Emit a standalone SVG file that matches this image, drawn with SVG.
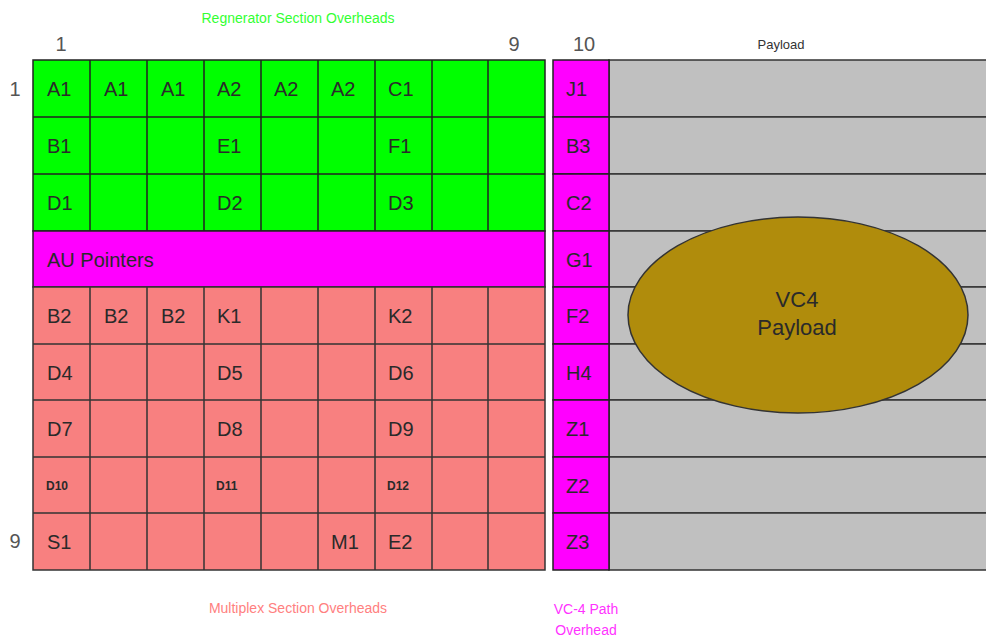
<svg xmlns="http://www.w3.org/2000/svg" width="986" height="640" viewBox="0 0 986 640">
<style>
text{font-family:"Liberation Sans",Arial,sans-serif}
.c{font-size:20px;fill:#2a2a2a}
.s{font-size:12px;fill:#2a2a2a;font-weight:bold}
.n{font-size:20px;fill:#555}
.g{fill:#00ff00;stroke:#222;stroke-width:1.5}
.m{fill:#ff00ff;stroke:#222;stroke-width:1.5}
.r{fill:#f88080;stroke:#333;stroke-width:1.5}
.p{fill:#c0c0c0;stroke:#333;stroke-width:1.5}
</style>
<rect width="986" height="640" fill="#fff"/>
<g id="titles">
<text x="298" y="23" font-size="14" fill="#33ff33" text-anchor="middle">Regnerator Section Overheads</text>
<text x="781" y="49" font-size="13" fill="#333" text-anchor="middle">Payload</text>
<text x="298" y="613" font-size="14" fill="#ff8080" text-anchor="middle">Multiplex Section Overheads</text>
<text x="586" y="614" font-size="14" fill="#ff33ff" text-anchor="middle">VC-4 Path</text>
<text x="586" y="635" font-size="14" fill="#ff33ff" text-anchor="middle">Overhead</text>
<text class="n" x="61" y="51" text-anchor="middle">1</text>
<text class="n" x="514" y="51" text-anchor="middle">9</text>
<text class="n" x="584" y="51" text-anchor="middle">10</text>
<text class="n" x="15" y="96" text-anchor="middle">1</text>
<text class="n" x="15" y="548" text-anchor="middle">9</text>
</g>
<g id="payload">
<rect class="p" x="609" y="60" width="385" height="57"/>
<rect class="p" x="609" y="117" width="385" height="57"/>
<rect class="p" x="609" y="174" width="385" height="57"/>
<rect class="p" x="609" y="231" width="385" height="56"/>
<rect class="p" x="609" y="287" width="385" height="57"/>
<rect class="p" x="609" y="344" width="385" height="56"/>
<rect class="p" x="609" y="400" width="385" height="57"/>
<rect class="p" x="609" y="457" width="385" height="56"/>
<rect class="p" x="609" y="513" width="385" height="57"/>
</g>
<g id="vc4">
<ellipse cx="798" cy="315" rx="170" ry="98" fill="#b08c0c" stroke="#333" stroke-width="1.5"/>
<text x="797" y="307" font-size="22" fill="#2a2a2a" text-anchor="middle">VC4</text>
<text x="797" y="335" font-size="22" fill="#2a2a2a" text-anchor="middle">Payload</text>
</g>
<g id="path-overhead">
<rect class="m" x="553" y="60" width="56" height="57"/><text class="c" x="566" y="96">J1</text>
<rect class="m" x="553" y="117" width="56" height="57"/><text class="c" x="566" y="153">B3</text>
<rect class="m" x="553" y="174" width="56" height="57"/><text class="c" x="566" y="210">C2</text>
<rect class="m" x="553" y="231" width="56" height="56"/><text class="c" x="566" y="267">G1</text>
<rect class="m" x="553" y="287" width="56" height="57"/><text class="c" x="566" y="323">F2</text>
<rect class="m" x="553" y="344" width="56" height="56"/><text class="c" x="566" y="380">H4</text>
<rect class="m" x="553" y="400" width="56" height="57"/><text class="c" x="566" y="436">Z1</text>
<rect class="m" x="553" y="457" width="56" height="56"/><text class="c" x="566" y="493">Z2</text>
<rect class="m" x="553" y="513" width="56" height="57"/><text class="c" x="566" y="549">Z3</text>
</g>
<g id="regenerator">
<g fill="#00ff00" stroke="#222" stroke-width="1.5">
<rect x="33" y="60" width="512" height="171"/>
</g>
<g stroke="#222" stroke-width="1.5">
<path d="M33 117H545M33 174H545M90 60V231M147 60V231M204 60V231M261 60V231M318 60V231M375 60V231M432 60V231M488 60V231"/>
</g>
<text class="c" x="47" y="96">A1</text><text class="c" x="104" y="96">A1</text><text class="c" x="161" y="96">A1</text>
<text class="c" x="217" y="96">A2</text><text class="c" x="274" y="96">A2</text><text class="c" x="331" y="96">A2</text>
<text class="c" x="388" y="96">C1</text>
<text class="c" x="47" y="153">B1</text><text class="c" x="217" y="153">E1</text><text class="c" x="388" y="153">F1</text>
<text class="c" x="47" y="210">D1</text><text class="c" x="217" y="210">D2</text><text class="c" x="388" y="210">D3</text>
</g>
<g id="au-pointers">
<rect class="m" x="33" y="231" width="512" height="56"/>
<text class="c" x="47" y="267">AU Pointers</text>
</g>
<g id="multiplex">
<rect class="r" x="33" y="287" width="512" height="283"/>
<path stroke="#333" stroke-width="1.5" d="M33 344H545M33 400H545M33 457H545M33 513H545M90 287V570M147 287V570M204 287V570M261 287V570M318 287V570M375 287V570M432 287V570M488 287V570"/>
<text class="c" x="47" y="323">B2</text><text class="c" x="104" y="323">B2</text><text class="c" x="161" y="323">B2</text>
<text class="c" x="217" y="323">K1</text><text class="c" x="388" y="323">K2</text>
<text class="c" x="47" y="380">D4</text><text class="c" x="217" y="380">D5</text><text class="c" x="388" y="380">D6</text>
<text class="c" x="47" y="436">D7</text><text class="c" x="217" y="436">D8</text><text class="c" x="388" y="436">D9</text>
<text class="s" x="46" y="490">D10</text><text class="s" x="216" y="490">D11</text><text class="s" x="387" y="490">D12</text>
<text class="c" x="47" y="549">S1</text><text class="c" x="331" y="549">M1</text><text class="c" x="388" y="549">E2</text>
</g>
</svg>
